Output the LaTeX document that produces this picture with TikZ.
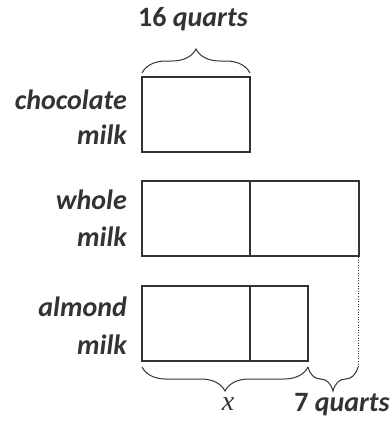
\documentclass[tikz,border=0pt]{standalone}
\usepackage{fontspec}
\setmainfont{Carlito}
\newfontfamily\mathlike{Liberation Serif}
\usetikzlibrary{decorations.pathreplacing}
\definecolor{ink}{HTML}{333333}
\begin{document}
\begin{tikzpicture}[x=1pt,y=-1pt,
  bar/.style={draw=ink,line width=2pt},
  lbl/.style={text=ink,font=\fontsize{28}{30}\selectfont\bfseries\itshape,anchor=east,inner sep=0pt},
  brc/.style={draw=ink,line width=1pt,decorate,decoration={brace,amplitude=24pt,aspect=0.5}},
  toptext/.style={text=ink,inner sep=0pt,font=\fontsize{28}{30}\selectfont\bfseries}]
\useasboundingbox (0,0) rectangle (389,421);
% boxes
\draw[bar] (142,77) rectangle (250,152);
\draw[bar] (142,181) rectangle (359,256);
\draw[bar] (250,181) -- (250,256);
\draw[bar] (142,286) rectangle (308,361);
\draw[bar] (250,286) -- (250,361);
\draw[ink,line width=0.6pt,dotted] (358,257) -- (358,367);
% coordinates
\coordinate (cl) at (142,73);
\coordinate (cr) at (250,73);
\coordinate (al) at (142,367);
\coordinate (am) at (308,367);
\coordinate (ar) at (358,367);
% braces
\draw[brc] (cl) -- (cr);
\draw[brc] (am) -- (al);
\draw[brc] (ar) -- (am);
% labels
\node[toptext] (t16) at (193,19) {16 \itshape quarts};
\node[lbl] (c1) at (127,100) {chocolate};
\node[lbl] (c2) at (127,135) {milk};
\node[lbl] (w1) at (127,200) {whole};
\node[lbl] (w2) at (127,237) {milk};
\node[lbl] (a1) at (127,307) {almond};
\node[lbl] (a2) at (127,345) {milk};
\node[text=ink,inner sep=0pt,font=\fontsize{28}{30}\selectfont\mathlike\itshape] (xl) at (228,404) {x};
\node[toptext] (q7) at (342,405) {7 \itshape quarts};
\end{tikzpicture}
\end{document}
